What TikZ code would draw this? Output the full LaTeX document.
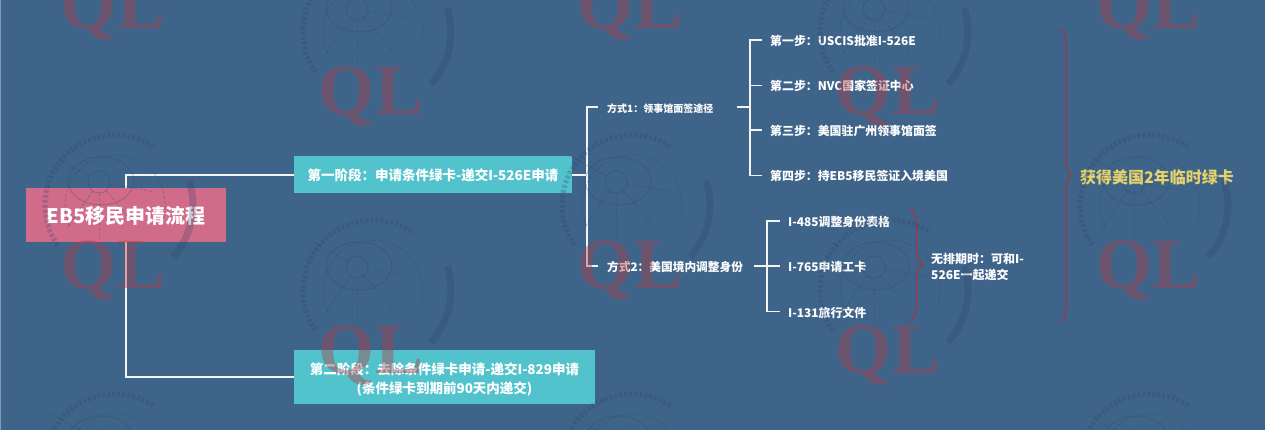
\documentclass[tikz,border=0pt]{standalone}
\usepackage{fontspec}
\setmainfont{Noto Sans CJK SC}
\newfontfamily\markfont{Liberation Serif}
\usetikzlibrary{arrows}
\usetikzlibrary{decorations.pathreplacing}
\definecolor{PageBlue}{HTML}{3F648A}
\definecolor{PageEdge}{HTML}{7F9BB8}
\definecolor{StageTeal}{HTML}{52C3CC}
\definecolor{RootPink}{HTML}{D06B8A}
\definecolor{LineWhite}{HTML}{F2F4F6}
\definecolor{BraceRed}{HTML}{A8323F}
\definecolor{GoldText}{HTML}{E6D36C}
\definecolor{MarkRed}{HTML}{AD3E48}
\definecolor{SealDark}{HTML}{2A4360}
\tikzstyle{RootNode}=[rectangle, fill=RootPink, text=white, font=\fontsize{20}{24}\selectfont\bfseries, minimum width=200pt, minimum height=54pt, inner sep=0pt, text height=19pt, text depth=2pt]
\tikzstyle{StageNode}=[rectangle, fill=StageTeal, text=white, font=\fontsize{13.5}{19}\selectfont\bfseries, align=center, minimum height=37pt, inner sep=0pt, text height=12.5pt, text depth=1pt]
\tikzstyle{WayNode}=[anchor=west, text=white, inner xsep=9pt, inner ysep=2pt, align=left, text height=11pt, text depth=0.6pt]
\tikzstyle{StepNode}=[anchor=west, text=white, font=\fontsize{11.9}{16}\selectfont\bfseries, inner xsep=8pt, inner ysep=2pt, text height=12pt, text depth=1pt]
\tikzstyle{Link}=[draw=LineWhite, line width=1.8pt]
\tikzstyle{RootLink}=[Link, line width=2.5pt]
\tikzstyle{RedBrace}=[draw=BraceRed, line width=1.1pt, decorate]
\tikzstyle{MarkText}=[text=MarkRed, text opacity=.42, font=\fontsize{72}{72}\selectfont\markfont\bfseries, anchor=base, inner sep=0pt]
\tikzstyle{SealPart}=[draw=SealDark, draw opacity=.26]
\tikzset{>=latex}

\begin{document}
\begin{tikzpicture}[x=1pt,y=-1pt]
\useasboundingbox (0,0) rectangle (1265,430);
\fill[PageBlue] (0,0) rectangle (1265,430);

\node[RootNode](Root) at (126,215) {EB5移民申请流程};
\node[StageNode, minimum width=278pt](StageA) at (433,175) {第一阶段：申请条件绿卡-递交I-526E申请};
\node[StageNode, minimum width=301pt, minimum height=54pt, text height=34pt, text depth=2pt](StageB) at (444.5,377) {第二阶段：去除条件绿卡申请-递交I-829申请\\(条件绿卡到期前90天内递交)};

\node[WayNode, text width=121pt, font=\fontsize{10}{14}\selectfont\bfseries](WayA) at (598,107) {方式1：领事馆面签途径};
\node[WayNode, text width=138pt, font=\fontsize{11.7}{14}\selectfont\bfseries](WayB) at (598,266) {方式2：美国境内调整身份};

\node[StepNode](StepA) at (762,40) {第一步：USCIS批准I-526E};
\node[StepNode](StepB) at (762,85.5) {第二步：NVC国家签证中心};
\node[StepNode](StepC) at (762,130) {第三步：美国驻广州领事馆面签};
\node[StepNode](StepD) at (762,175.5) {第四步：持EB5移民签证入境美国};

\node[StepNode](FormA) at (780,221) {I-485调整身份表格};
\node[StepNode](FormB) at (780,266) {I-765申请工卡};
\node[StepNode](FormC) at (780,311.5) {I-131旅行文件};

\node[anchor=west, text=white, font=\fontsize{12}{16}\selectfont\bfseries, align=left, inner sep=0pt](NoWait) at (931,267) {无排期时：可和I-\\526E一起递交};
\node[anchor=west, text=GoldText, font=\fontsize{16}{18}\selectfont\bfseries, inner sep=0pt](Result) at (1080,177) {获得美国2年临时绿卡};

\coordinate (TrunkA) at (587,175);
\coordinate (TrunkB) at (750,107);
\coordinate (TrunkC) at (767,266);
\coordinate (BraceAtop) at (910,209);
\coordinate (BraceAend) at (910,321);
\coordinate (BraceBtop) at (1060,29);
\coordinate (BraceBend) at (1060,322);

\draw[RootLink](Root.north) |- (StageA.west);
\draw[RootLink](Root.south) |- (StageB.west);

\draw[Link](StageA.east) -- (TrunkA);
\draw[Link](TrunkA) |- (WayA.west);
\draw[Link](TrunkA) |- (WayB.west);

\draw[Link](WayA.east) -- (TrunkB);
\draw[Link](TrunkB) |- (StepA.west);
\draw[Link](TrunkB) |- (StepB.west);
\draw[Link](TrunkB) |- (StepC.west);
\draw[Link](TrunkB) |- (StepD.west);

\draw[Link](WayB.east) -- (FormB.west);
\draw[Link](TrunkC) |- (FormA.west);
\draw[Link](TrunkC) |- (FormC.west);

\draw[RedBrace, decoration={brace, amplitude=13pt}](BraceAtop) -- (BraceAend);
\draw[RedBrace, decoration={brace, amplitude=12pt}](BraceBtop) -- (BraceBend);

% watermark tiles lie over everything
\begin{scope}
\clip (0,0) rectangle (1265,430);
\foreach \i/\cx/\cy in {1/115/-54,2/115/205,3/115/464,4/373/32,5/373/290,6/632/-54,7/632/205,8/632/464,9/890/32,10/890/290,11/1150/-54,12/1150/205,13/1150/464}{
  \begin{scope}[shift={(\cx,\cy)}, x=1pt, y=1pt]
    \draw[SealPart, line width=5pt, dash pattern=on 3pt off 2pt] (215:70) arc[start angle=215, end angle=55, radius=70pt];
    \draw[SealPart, line width=7pt] (18:78) arc[start angle=18, end angle=-42, radius=78pt];
    \draw[SealPart, line width=1pt] (-14,24) ellipse[x radius=33pt, y radius=24pt];
    \draw[SealPart, line width=1pt] (-16,23) circle[radius=11pt];
    \draw[SealPart, line width=1pt, densely dashed] (205:50) arc[start angle=205, end angle=-20, radius=50pt];
    \foreach \a in {-125,-90,-50,-10,150}
      \draw[SealPart, line width=1pt, densely dashed] (-16,23) ++(\a:11) -- ++(\a:46);
    \node[MarkText](QL\i) at (-2,-83) {QL};
  \end{scope}
}
\end{scope}
\draw[PageEdge, line width=1pt] (0,0) rectangle (1265,430);
\end{tikzpicture}
\end{document}
